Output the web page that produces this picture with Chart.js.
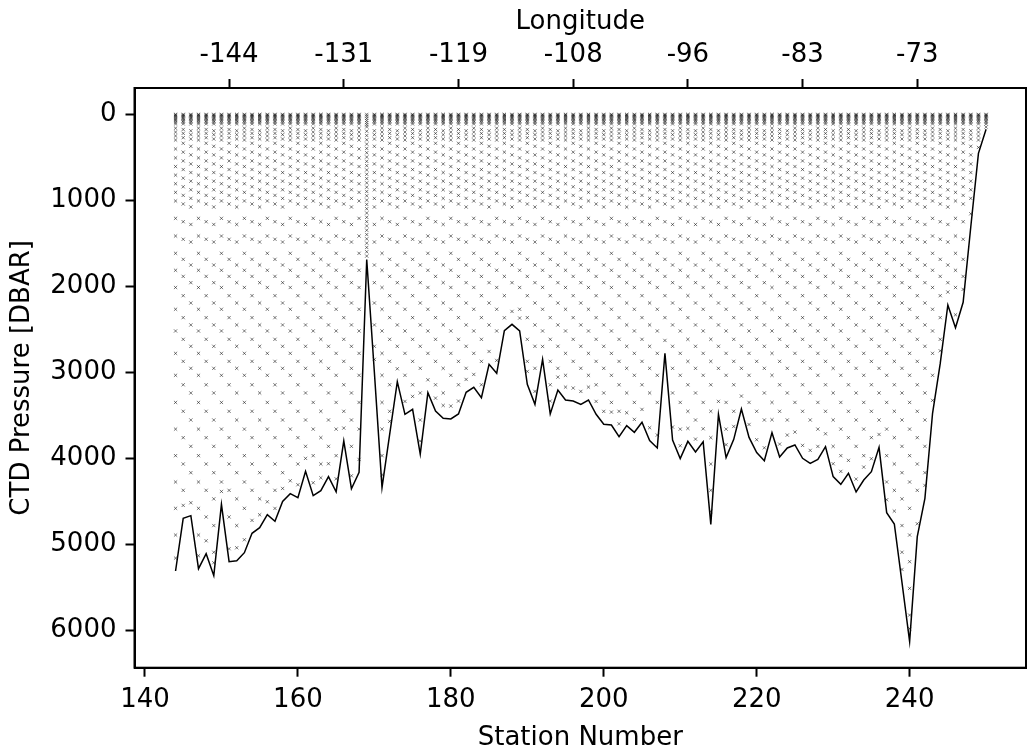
<!DOCTYPE html>
<html>
<head>
<meta charset="utf-8">
<script src="https://cdn.jsdelivr.net/npm/chart.js@4.4.1/dist/chart.umd.min.js"></script>
<style>
  html, body { margin: 0; padding: 0; background: #ffffff; }
  #wrap { width: 1029px; height: 748px; }
  canvas { display: block; }
</style>
</head>
<body>
<div id="wrap"><canvas id="c" width="1029" height="748"></canvas></div>
<script>
// ---- Data ----
const stations = [144,145,146,147,148,149,150,151,152,153,154,155,156,157,158,159,160,161,162,163,
  164,165,166,167,168,169,170,171,172,173,174,175,176,177,178,179,180,181,182,183,
  184,185,186,187,188,189,190,191,192,193,194,195,196,197,198,199,200,201,202,203,
  204,205,206,207,208,209,210,211,212,213,214,215,216,217,218,219,220,221,222,223,
  224,225,226,227,228,229,230,231,232,233,234,235,236,237,238,239,240,241,242,243,
  244,245,246,247,248,249,250];

// Bottom (deepest CTD) pressure per station [dbar]
const bottomPressure = [5308,4696,4665,5281,5107,5362,4534,5199,5188,5095,4870,4805,4654,4731,4499,4410,4456,4150,4433,4375,
  4212,4387,3798,4352,4162,1690,3000,4340,3720,3109,3488,3430,3949,3237,3450,3535,3542,3484,3233,3175,
  3295,2908,3012,2517,2443,2520,3140,3372,2850,3484,3206,3322,3333,3372,3322,3488,3604,3612,3748,3620,
  3697,3581,3794,3879,2780,3786,4003,3802,3926,3806,4766,3488,3991,3779,3426,3756,3933,4027,3701,3984,
  3879,3844,3999,4057,4011,3864,4212,4301,4173,4390,4251,4154,3872,4630,4762,5440,6128,4909,4464,3476,
  2900,2218,2482,2187,1309,457,178];

// Bottle sampling pressures (three staggered schemes used in rotation)
const schemeA = [4,12,22,34,48,62,78,95,115,165,210,255,302,406,510,610,710,810,910,1010,1212,1417,1618,1815,2015,2268,2520,2780,3035,3350,3660,3968,4274,4580,4890,5200,5510,5820,6130];
const schemeB = [4,12,22,34,48,62,78,95,115,180,225,275,340,443,545,645,745,845,945,1045,1251,1455,1688,1886,2110,2365,2617,2873,3145,3453,3759,4065,4371,4680,4990,5300,5610,5920];
const schemeC = [4,12,22,34,48,62,78,95,115,195,240,290,375,475,580,680,780,880,980,1080,1283,1487,1754,1959,2195,2450,2698,2954,3240,3554,3860,4166,4470,4780,5090,5400,5710,6020];
// Seamount station sampled densely
const denseStation = 169;
const denseScheme = [5,25,50,75,100,125,150,200,250,300,350,400,450,500,550,600,650,700,750,800,850,900,950,1000,1050,1100,1150,1200,1250,1300,1350,1400,1450,1500,1550,1600,1650];

// Axis ticks
const stationTicks = [140,160,180,200,220,240];
const pressureTicks = [0,1000,2000,3000,4000,5000,6000];
const lonTickStations = [151,166,181,196,211,226,241];
const lonTickLabels = ['-144','-131','-119','-108','-96','-83','-73'];

// ---- Build datasets ----
const schemes = [schemeA, schemeB, schemeC];
const bottomLine = stations.map((s, i) => ({ x: s, y: bottomPressure[i] }));
const samples = [];
stations.forEach((s, i) => {
  const bottom = bottomPressure[i];
  if (s === denseStation) {
    denseScheme.forEach(p => { if (p < bottom) samples.push({ x: s, y: p }); });
    return;
  }
  const gap = Math.min(250, bottom * 0.3);
  schemes[i % 3].forEach(p => { if (p < bottom - gap) samples.push({ x: s, y: p }); });
  samples.push({ x: s, y: bottom - Math.min(150, bottom * 0.15) });
});

const FONT = { family: '"DejaVu Sans", sans-serif', size: 26 };
const XMIN = 138.63, XMAX = 255.22, YMIN = -302, YMAX = 6431;

const framePlugin = {
  id: 'frame',
  afterDraw(chart) {
    const a = chart.chartArea, ctx = chart.ctx;
    ctx.save();
    ctx.strokeStyle = '#000';
    ctx.lineWidth = 2;
    ctx.strokeRect(a.left, a.top, a.right - a.left, a.bottom - a.top);
    ctx.restore();
  }
};

new Chart(document.getElementById('c'), {
  data: {
    datasets: [
      {
        type: 'scatter',
        data: samples,
        pointStyle: 'crossRot',
        pointRadius: 2.3,
        pointHoverRadius: 2.3,
        borderColor: 'rgba(0,0,0,0.75)',
        backgroundColor: 'rgba(0,0,0,0.75)',
        pointBorderWidth: 0.7,
        borderWidth: 0.7,
        xAxisID: 'x', yAxisID: 'y',
        order: 2
      },
      {
        type: 'line',
        data: bottomLine,
        borderColor: '#000',
        borderWidth: 1.5,
        pointRadius: 0,
        tension: 0,
        fill: false,
        xAxisID: 'x', yAxisID: 'y',
        order: 1
      }
    ]
  },
  options: {
    responsive: false,
    animation: false,
    devicePixelRatio: 1,
    layout: { padding: { left: 0, right: 2, top: 0, bottom: 0 } },
    plugins: { legend: { display: false }, tooltip: { enabled: false } },
    scales: {
      x: {
        type: 'linear', position: 'bottom', min: XMIN, max: XMAX,
        afterBuildTicks: s => { s.ticks = stationTicks.map(v => ({ value: v })); },
        afterFit: s => { s.height = 80.3; },
        ticks: { font: FONT, color: '#000', padding: 8, maxRotation: 0, autoSkip: false, callback: v => String(v) },
        grid: { drawOnChartArea: false, drawTicks: true, tickLength: 9, tickWidth: 2, tickColor: '#000' },
        border: { display: true, color: '#000', width: 2 },
        title: { display: true, text: 'Station Number', font: FONT, color: '#000', padding: { top: 0, bottom: -5.6 } }
      },
      x2: {
        type: 'linear', position: 'top', min: XMIN, max: XMAX,
        afterBuildTicks: s => { s.ticks = lonTickStations.map(v => ({ value: v })); },
        afterFit: s => { s.height = 88; },
        ticks: {
          font: FONT, color: '#000', padding: 8, maxRotation: 0, autoSkip: false,
          callback: v => { const k = lonTickStations.indexOf(v); return k >= 0 ? lonTickLabels[k] : ''; }
        },
        grid: { drawOnChartArea: false, drawTicks: true, tickLength: 9, tickWidth: 2, tickColor: '#000' },
        border: { display: true, color: '#000', width: 2 },
        title: { display: true, text: 'Longitude', font: FONT, color: '#000', padding: { top: 6.4, bottom: 0 } }
      },
      y: {
        type: 'linear', position: 'left', reverse: true, min: YMIN, max: YMAX,
        afterBuildTicks: s => { s.ticks = pressureTicks.map(v => ({ value: v })); },
        afterFit: s => { s.width = 134.5; },
        ticks: { font: FONT, color: '#000', padding: 9, autoSkip: false, callback: v => String(v) },
        grid: { drawOnChartArea: false, drawTicks: true, tickLength: 9, tickWidth: 2, tickColor: '#000' },
        border: { display: true, color: '#000', width: 2 },
        title: { display: true, text: 'CTD Pressure [DBAR]', font: FONT, color: '#000', padding: { top: 6.4, bottom: 0 } }
      }
    }
  },
  plugins: [framePlugin]
});
</script>
</body>
</html>
